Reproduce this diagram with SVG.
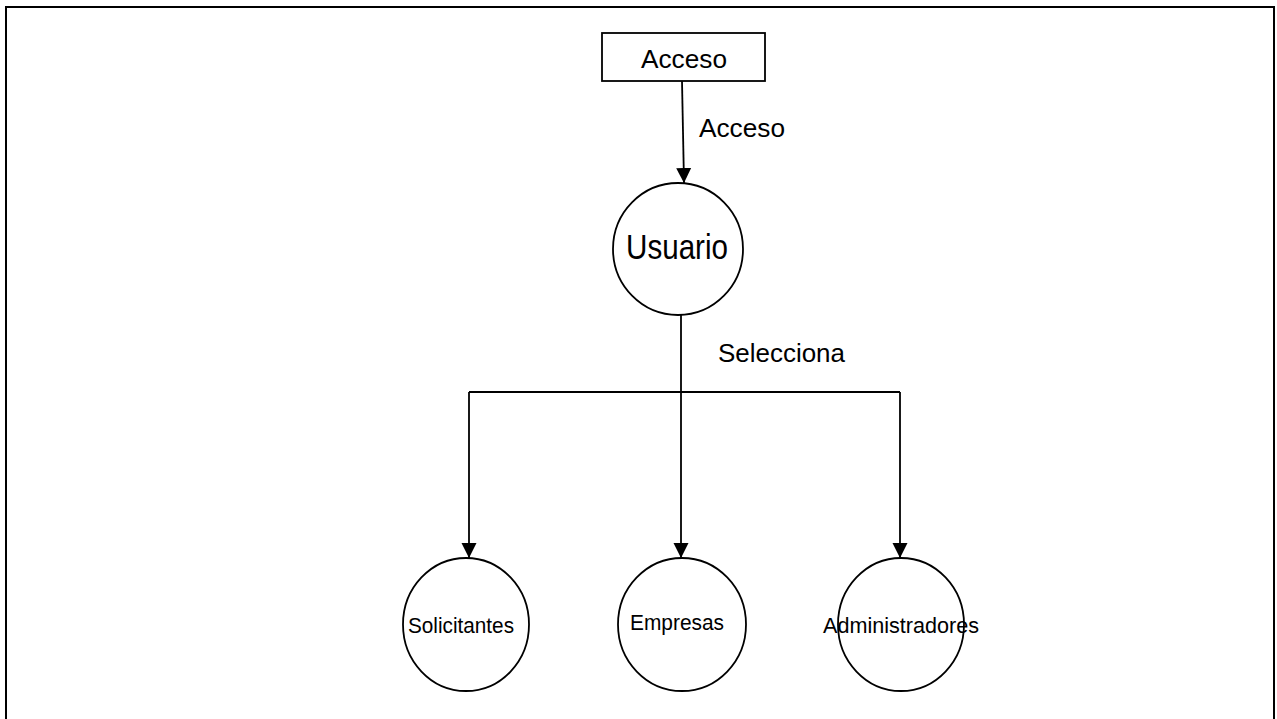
<svg xmlns="http://www.w3.org/2000/svg" width="1277" height="719" viewBox="0 0 1277 719">
  <defs>
    <style>
      .shape { fill: #ffffff; stroke: #000000; stroke-width: 1.8; }
      .edge { fill: none; stroke: #000000; stroke-width: 1.8; }
      .lbl { font-family: "Liberation Sans", Arial, sans-serif; fill: #000000; }
    </style>
    <marker id="arrow" markerUnits="userSpaceOnUse" markerWidth="17" markerHeight="17" viewBox="0 0 17 17" refX="15" refY="8.5" orient="auto">
      <path d="M0,1 L15,8.5 L0,16 Z" fill="#000000"/>
    </marker>
  </defs>
  <rect x="0" y="0" width="1277" height="719" fill="#ffffff"/>
  <rect x="6" y="7" width="1268" height="740" fill="none" stroke="#000000" stroke-width="2"/>

  <g id="connectors">
    <line class="edge" x1="682" y1="81" x2="684" y2="183" marker-end="url(#arrow)"/>
    <text class="lbl" x="699" y="137" font-size="25" textLength="86" lengthAdjust="spacingAndGlyphs">Acceso</text>
    <line class="edge" x1="681" y1="315" x2="681" y2="558" marker-end="url(#arrow)"/>
    <polyline class="edge" points="469,392 900,392"/>
    <line class="edge" x1="469" y1="392" x2="469" y2="558" marker-end="url(#arrow)"/>
    <line class="edge" x1="900" y1="392" x2="900" y2="558" marker-end="url(#arrow)"/>
    <text class="lbl" x="718" y="362" font-size="25" textLength="127" lengthAdjust="spacingAndGlyphs">Selecciona</text>
  </g>

  <g id="node-acceso">
    <rect class="shape" x="602" y="33" width="163" height="48"/>
    <text class="lbl" x="641" y="68" font-size="25" textLength="86" lengthAdjust="spacingAndGlyphs">Acceso</text>
  </g>

  <g id="node-usuario">
    <ellipse class="shape" cx="678" cy="249" rx="65" ry="66"/>
    <text class="lbl" x="626" y="259" font-size="35" textLength="102" lengthAdjust="spacingAndGlyphs">Usuario</text>
  </g>

  <g id="node-solicitantes">
    <ellipse class="shape" cx="466" cy="624.5" rx="63" ry="66.5"/>
    <text class="lbl" x="408" y="633" font-size="22" textLength="106" lengthAdjust="spacingAndGlyphs">Solicitantes</text>
  </g>

  <g id="node-empresas">
    <ellipse class="shape" cx="682" cy="624.5" rx="64" ry="66.5"/>
    <text class="lbl" x="630" y="630" font-size="22" textLength="94" lengthAdjust="spacingAndGlyphs">Empresas</text>
  </g>

  <g id="node-administradores">
    <ellipse class="shape" cx="901" cy="624.5" rx="63" ry="66.5"/>
    <text class="lbl" x="823" y="633" font-size="22" textLength="156" lengthAdjust="spacingAndGlyphs">Administradores</text>
  </g>
</svg>
